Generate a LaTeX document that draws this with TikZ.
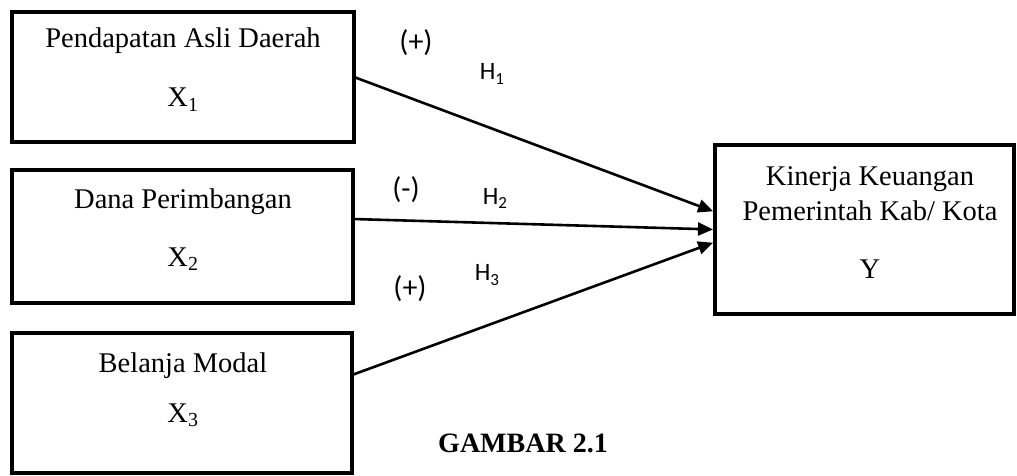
\documentclass[tikz,border=0pt]{standalone}
\usepackage{fontspec}
\setmainfont{Liberation Serif}
\newfontfamily\labfont{Carlito}
\usetikzlibrary{arrows.meta}
\newcommand{\hyp}[1]{{\labfont\fontsize{25}{28}\selectfont H\raisebox{-5pt}{\fontsize{17}{17}\selectfont #1}}}
\newcommand{\sign}[1]{{\labfont\fontsize{30}{32}\selectfont #1}}
\tikzset{
  varbox/.style={draw, line width=4pt, rectangle, inner sep=0pt, outer sep=0pt},
  boxtext/.style={font=\fontsize{28.5}{32}\selectfont, inner sep=0pt, anchor=base},
  hyplabel/.style={inner sep=0pt, anchor=base},
  link/.style={line width=2.6pt, -{Triangle[length=15pt,width=13pt]}, shorten >=2pt}
}
\begin{document}
\begin{tikzpicture}[x=1pt,y=-1pt]
\useasboundingbox (0,0) rectangle (1017,476);

% independent variables
\node[varbox, minimum width=342pt, minimum height=130pt] (b1) at (183,77) {};
\node[varbox, minimum width=341pt, minimum height=133pt] (b2) at (182.5,236.5) {};
\node[varbox, minimum width=340pt, minimum height=140pt] (b3) at (182,403) {};
% dependent variable
\node[varbox, minimum width=299pt, minimum height=169pt] (by) at (864.5,229.5) {};

\node[boxtext] (t1) at (183,48) {Pendapatan Asli Daerah};
\node[boxtext] (x1) at (183,107) {X\textsubscript{1}};
\node[boxtext] (t2) at (183,208) {Dana Perimbangan};
\node[boxtext] (x2) at (183,266) {X\textsubscript{2}};
\node[boxtext] (t3) at (183,372) {Belanja Modal};
\node[boxtext] (x3) at (183,422) {X\textsubscript{3}};

\node[boxtext] (ty1) at (870,185) {Kinerja Keuangan};
\node[boxtext] (ty2) at (870,220) {Pemerintah Kab/ Kota};
\node[boxtext] (ty3) at (870,278) {Y};

\node[boxtext, font=\bfseries\fontsize{28}{32}\selectfont] (cap) at (523,452) {GAMBAR 2.1};

% hypothesised effects
\draw[link] (b1.east) -- ([yshift=17.5pt]by.west);
\draw[link] ([yshift=17.5pt]b2.east) -- (by.west);
\draw[link] ([yshift=28pt]b3.east) -- ([yshift=-12.5pt]by.west);

\node[hyplabel] (s1) at (416,52) {\sign{(+)}};
\node[hyplabel] (h1) at (492,80) {\hyp{1}};
\node[hyplabel] (s2) at (406,198) {\sign{(-)}};
\node[hyplabel] (h2) at (495,204) {\hyp{2}};
\node[hyplabel] (s3) at (410,297) {\sign{(+)}};
\node[hyplabel] (h3) at (487,280) {\hyp{3}};
\end{tikzpicture}
\end{document}
